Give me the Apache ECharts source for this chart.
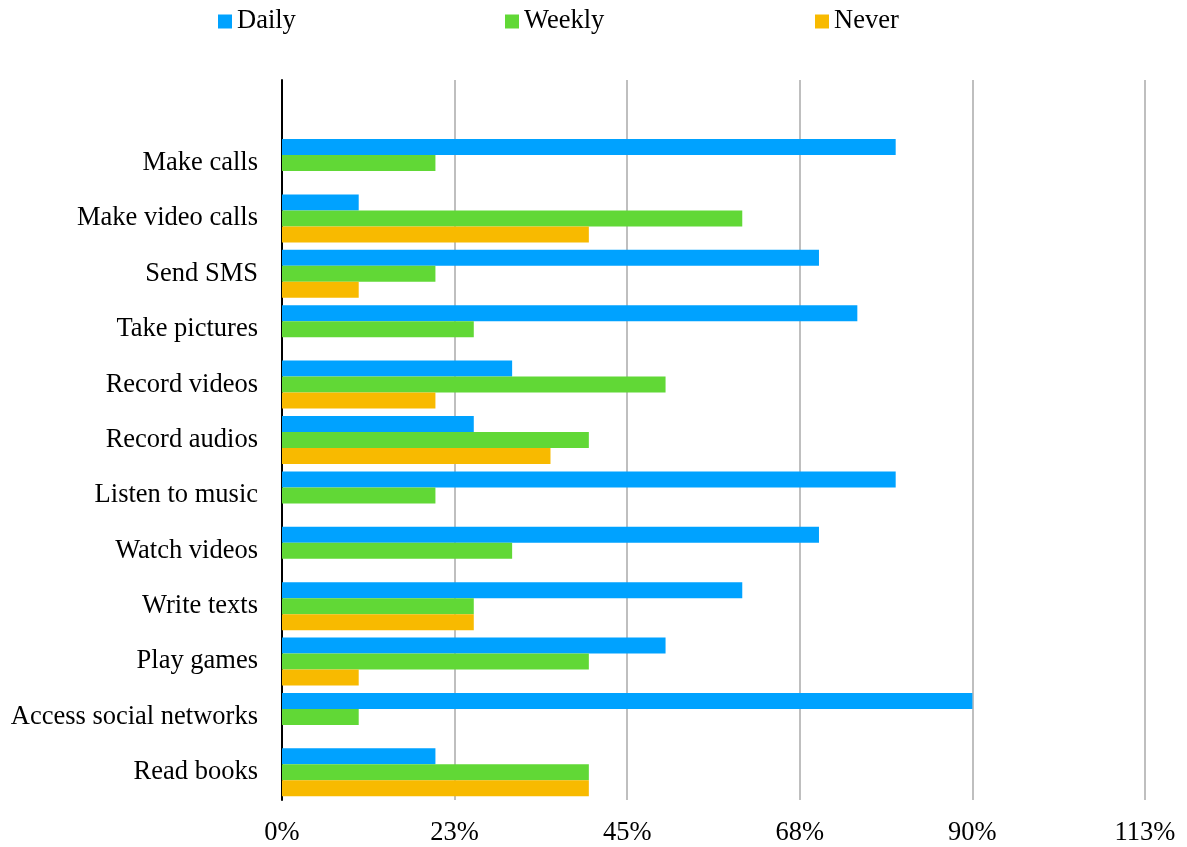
<!DOCTYPE html>
<html><head><meta charset="utf-8">
<script src="https://cdn.jsdelivr.net/npm/echarts@6/dist/echarts.min.js"></script>
<style>html,body{margin:0;padding:0;background:#fff}#c{width:1187px;height:847px}</style>
</head><body><div id="c"></div>
<script>
const categories = ['Make calls','Make video calls','Send SMS','Take pictures','Record videos','Record audios','Listen to music','Watch videos','Write texts','Play games','Access social networks','Read books'];
const daily  = [80,10,70,75,30,25,80,70,60,50,90,20];
const weekly = [20,60,20,25,50,40,20,30,25,40,10,40];
const never  = [null,40,10,null,20,35,null,null,25,10,null,40];
const seriesNames = ['Daily','Weekly','Never'];
const colors = ['#00A2FF','#61D836','#F8BA00'];
const tickMax = 112.5, tickStep = 22.5;

const font = '"Liberation Serif","Times New Roman",serif';
const yData = [''].concat(categories);
const pad = arr => [null].concat(arr);
const vals = [daily, weekly, never];

const chart = echarts.init(document.getElementById('c'));
const legendLefts = [213, 500, 810];
chart.setOption({
  animation: false,
  legend: seriesNames.map((n,i)=>({
    data:[n], left: legendLefts[i], top: 3, icon:'rect', itemWidth:14, itemHeight:14,
    textStyle:{fontFamily:font, fontSize:26.5, color:'#000'}
  })),
  grid: {left:282, right:42, top:80, bottom:47, containLabel:false},
  xAxis: {
    type:'value', min:0, max:tickMax, interval:tickStep,
    axisLine:{show:false}, axisTick:{show:false},
    splitLine:{lineStyle:{color:'#BFBFBF', width:2}},
    axisLabel:{formatter:v=>Math.round(v)+'%', fontFamily:font, fontSize:26.5, color:'#000', margin:20}
  },
  yAxis: {
    type:'category', inverse:true, data:yData,
    axisLine:{lineStyle:{color:'#000', width:2}}, axisTick:{show:false},
    axisLabel:{fontFamily:font, fontSize:26.5, color:'#000', margin:24, padding:[4,0,0,0]}
  },
  series: seriesNames.map((n,i)=>({
    name:n, type:'bar', data:pad(vals[i]), barWidth:16, barGap:'0%',
    itemStyle:{color:colors[i]}
  }))
});
</script></body></html>
